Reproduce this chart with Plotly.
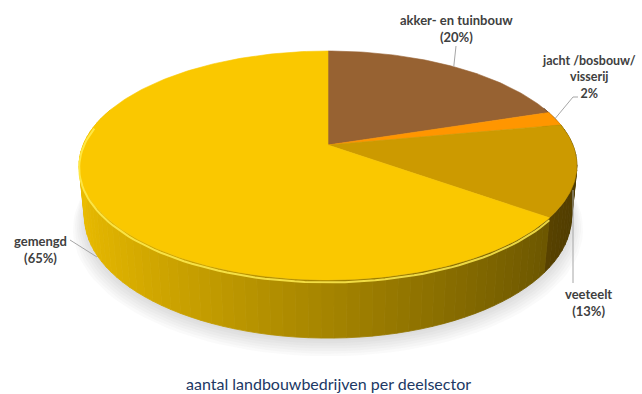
import math
import plotly.graph_objects as go

# Share of farms per sub-sector (percent), clockwise from 12 o'clock
categories = ["akker- en tuinbouw", "jacht /bosbouw/\nvisserij", "veeteelt", "gemengd"]
values = [20, 2, 13, 65]
label_fmt = ["({}%)", "{}%", "({}%)", "({}%)"]
top_colors = [(151, 98, 50), (255, 150, 0), (204, 154, 0), (250, 200, 0)]
title = "aantal landbouwbedrijven per deelsector"

W, H = 642, 394

# Perspective camera for the 3D disc
CX, CY = 328.0, 145.0
F = 1222.0
DIST = 4.99
TILT = math.radians(26.9)
DEPTH = 0.238


def project(theta, level=0.0, r=1.0):
    """Project a point of the disc (angle clockwise from the back) to pixels."""
    X = r * math.sin(theta)
    Z = r * math.cos(theta)
    Y = -level
    yp = Y * math.cos(TILT) + Z * math.sin(TILT)
    zp = -Y * math.sin(TILT) + Z * math.cos(TILT)
    k = F / (DIST + zp)
    return CX + X * k, CY - yp * k


def rgb(c, f=1.0, a=None):
    r, g, b = (max(0, min(255, int(round(v * f)))) for v in c)
    if a is None:
        return f"rgb({r},{g},{b})"
    return f"rgba({r},{g},{b},{a})"


fig = go.Figure()

# Soft shadow under the disc, shifted downwards
for i in range(7):
    rr = 0.99 + 0.008 * (i + 1)
    pts = [project(math.radians(t), DEPTH, rr) for t in range(0, 361, 3)]
    fig.add_trace(go.Scatter(
        x=[p[0] for p in pts], y=[p[1] + 3 + i * 1.2 for p in pts],
        mode="lines", fill="toself", fillcolor="rgba(110,110,110,0.035)",
        line=dict(width=0), hoverinfo="skip", showlegend=False))

# Slice angles from the values
total = float(sum(values))
bounds = [0.0]
for v in values:
    bounds.append(bounds[-1] + 2 * math.pi * v / total)

# Outer walls, shaded by angle (light from the left)
for i, c in enumerate(top_colors):
    a0, a1 = bounds[i], bounds[i + 1]
    n = max(2, int(math.degrees(a1 - a0) / 2.5))
    for j in range(n):
        t0 = a0 + (a1 - a0) * j / n
        t1 = a0 + (a1 - a0) * (j + 1) / n
        tm = 0.5 * (t0 + t1)
        if math.cos(tm) > 0.35:
            continue
        shade = 0.66 - 0.28 * math.sin(tm)
        p = [project(t0), project(t1), project(t1, DEPTH), project(t0, DEPTH), project(t0)]
        col = rgb(c, shade)
        fig.add_trace(go.Scatter(
            x=[q[0] for q in p], y=[q[1] for q in p], mode="lines",
            fill="toself", fillcolor=col, line=dict(color=col, width=0.8),
            hoverinfo="skip", showlegend=False))

# Top faces
for i, c in enumerate(top_colors):
    a0, a1 = bounds[i], bounds[i + 1]
    n = max(3, int(math.degrees(a1 - a0)))
    arc = [project(a0 + (a1 - a0) * j / n) for j in range(n + 1)]
    pts = [(CX, CY)] + arc + [(CX, CY)]
    fig.add_trace(go.Scatter(
        x=[p[0] for p in pts], y=[p[1] for p in pts], mode="lines",
        fill="toself", fillcolor=rgb(c), line=dict(color=rgb(c), width=0.6),
        hoverinfo="skip", showlegend=False))

# Bevel highlight along the front rim of the largest slice
a0, a1 = bounds[3], bounds[4]
rim = [project(a0 + (a1 - a0) * j / 120, 0.004) for j in range(121)
       if math.cos(a0 + (a1 - a0) * j / 120) < 0.2]
fig.add_trace(go.Scatter(
    x=[p[0] for p in rim], y=[p[1] + 1.5 for p in rim], mode="lines",
    line=dict(color="rgba(255,236,80,0.85)", width=2),
    hoverinfo="skip", showlegend=False))

# Leader lines and labels (order follows the data)
mids = [0.5 * (bounds[i] + bounds[i + 1]) for i in range(len(values))]
label_pos = [(456, 28), (589, 77), (588, 302), (40, 249)]
label_size = [13, 12.5, 13, 13]
leader_end = [(456, 46), (573, 97), (573, 283), (70, 240)]
leader_start = [project(mids[0]), project(mids[1]), (573, 190), (97, 257)]
bends = [None, (578, 97), None, None]

for i in range(len(values)):
    sx, sy = leader_start[i]
    ex, ey = leader_end[i]
    xs, ys = [sx, ex], [sy, ey]
    if bends[i] is not None:
        xs.append(bends[i][0])
        ys.append(bends[i][1])
    fig.add_trace(go.Scatter(x=xs, y=ys, mode="lines",
                             line=dict(color="rgb(166,166,166)", width=1),
                             hoverinfo="skip", showlegend=False))
    txt = categories[i].replace("\n", "<br>") + "<br>" + label_fmt[i].format(values[i])
    fig.add_annotation(x=label_pos[i][0], y=label_pos[i][1], text=f"<b>{txt}</b>",
                       showarrow=False, xanchor="center", yanchor="middle",
                       font=dict(family="Lato", size=label_size[i], color="rgb(64,64,64)"))

fig.add_annotation(x=328, y=383, text=title, showarrow=False,
                   xanchor="center", yanchor="middle",
                   font=dict(family="Lato", size=16, color="rgb(32,56,100)"))

fig.update_layout(
    width=W, height=H, margin=dict(l=0, r=0, t=0, b=0),
    paper_bgcolor="white", plot_bgcolor="white",
    xaxis=dict(range=[0, W], visible=False, fixedrange=True),
    yaxis=dict(range=[H, 0], visible=False, fixedrange=True),
)

fig.write_html("out.html")
